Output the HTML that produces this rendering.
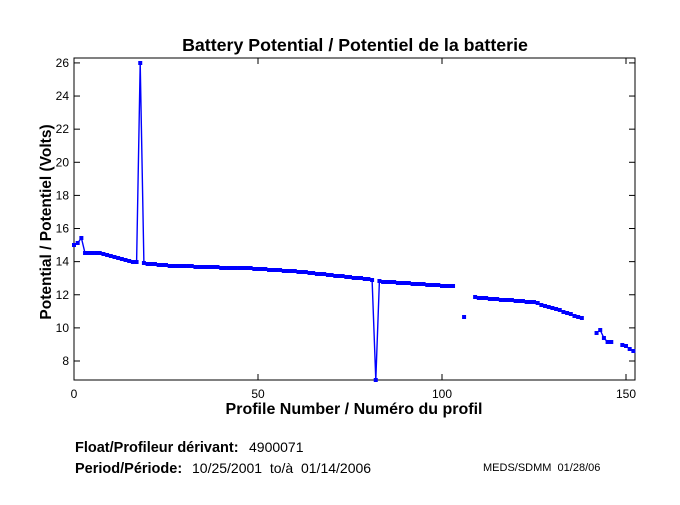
<!DOCTYPE html>
<html><head><meta charset="utf-8"><style>
body{margin:0;background:#fff;width:680px;height:500px;overflow:hidden;font-family:"Liberation Sans",Arial,sans-serif}
svg text{font-family:"Liberation Sans",Arial,sans-serif;white-space:pre}
</style></head><body>
<svg id="s" width="680" height="500" xmlns="http://www.w3.org/2000/svg">
<rect width="680" height="500" fill="#fff"/>
<text x="355" y="51" font-size="17.8" font-weight="bold" text-anchor="middle">Battery Potential / Potentiel de la batterie</text>
<rect x="74" y="58" width="561" height="322" fill="none" stroke="#000" stroke-width="1"/>
<g id="ticks" stroke="#000" stroke-width="1"></g>
<g id="lbl" font-size="12" fill="#000"></g>
<text x="354" y="414" font-size="16" font-weight="bold" text-anchor="middle">Profile Number / Numéro du profil</text>
<text transform="translate(51,222) rotate(-90)" font-size="15.5" font-weight="bold" text-anchor="middle">Potential / Potentiel (Volts)</text>
<g id="data"></g>
<text x="75" y="452" font-size="14.5" font-weight="bold">Float/Profileur dérivant:</text>
<text x="249" y="452" font-size="14">4900071</text>
<text x="75" y="473" font-size="14.5" font-weight="bold">Period/Période:</text>
<text x="192" y="473" font-size="14">10/25/2001  to/à  01/14/2006</text>
<text x="483" y="471" font-size="11">MEDS/SDMM  01/28/06</text>
</svg>
<script>
var NS="http://www.w3.org/2000/svg";
function el(t,a,p){var e=document.createElementNS(NS,t);for(var k in a)e.setAttribute(k,a[k]);p.appendChild(e);return e;}
var T=document.getElementById("ticks"),L=document.getElementById("lbl"),D=document.getElementById("data");
function X(n){return 74+3.68*n;}
function Y(v){return 361-(v-8)*16.56;}
[0,50,100,150].forEach(function(n){var x=X(n);el("line",{x1:x,y1:380,x2:x,y2:374},T);el("line",{x1:x,y1:58,x2:x,y2:64},T);
var t=el("text",{x:x,y:398,"text-anchor":"middle"},L);t.textContent=n;});
for(var v=8;v<=26;v+=2){var y=Y(v);el("line",{x1:74,y1:y,x2:80,y2:y},T);el("line",{x1:635,y1:y,x2:629,y2:y},T);
var t=el("text",{x:69,y:y+4,"text-anchor":"end"},L);t.textContent=v;}
var A=[[0,245],[1,243],[2,238],[3,253],[7,253],[10,256],[16,262],[17,262],[18,63],[19,263],[24,265],[37,267],[47,268],[60,271],[70,275],[80,279],[81,280],[82,380],[83,281],[95,284],[103,286],[106,317],[107,317],[109,297],[115,299],[125,302],[132,310],[138,318],[142,333],[143,330],[144,338],[145,342],[146,342],[149,345],[150,346],[151,349],[152,351]];
function yv(n){for(var i=0;i<A.length-1;i++){if(n>=A[i][0]&&n<=A[i+1][0]){var a=A[i],b=A[i+1];if(a[0]==b[0])return a[1];return a[1]+(b[1]-a[1])*(n-a[0])/(b[0]-a[0]);}}return A[A.length-1][1];}
var segs=[[0,103],[106,106],[109,138],[142,146],[149,152]];
segs.forEach(function(s){var pts=[];for(var n=s[0];n<=s[1];n++){var y=Math.round(yv(n)*2)/2;if(n!=18&&n!=82)y=Math.round(y);pts.push(X(n).toFixed(1)+","+y);
el("rect",{x:X(n)-2,y:y-2,width:4,height:4,fill:"#0000ff"},D);}
el("polyline",{points:pts.join(" "),fill:"none",stroke:"#0000ff","stroke-width":1.4},D);});
</script>
</body></html>
